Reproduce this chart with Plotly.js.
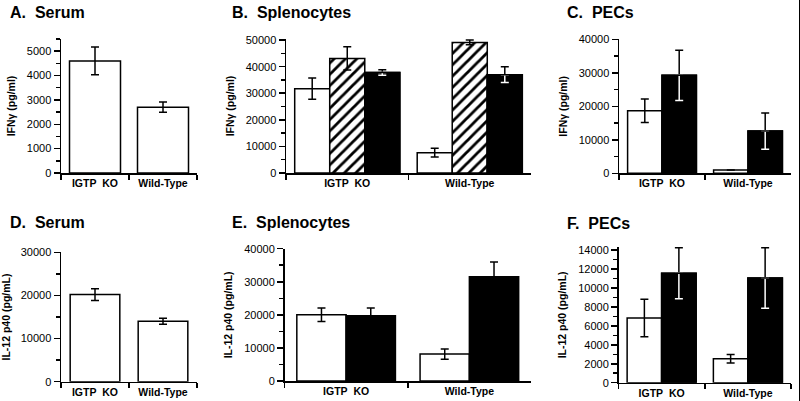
<!DOCTYPE html>
<html>
<head>
<meta charset="utf-8">
<script src="https://cdn.plot.ly/plotly-3.0.1.min.js"></script>
<style>html,body{margin:0;padding:0;background:#fff;}#chart{width:800px;height:401px;}</style>
</head>
<body>
<div id="chart"></div>
<script>
// ---- data ----
var categories = ['IGTP\u00a0\u00a0KO', 'Wild-Type'];

// A. Serum IFNγ
var serumIFN = [4600, 2700];
var serumIFNErr = [570, 210];
// B. Splenocytes IFNγ
var splenoIFNOpen = [31700, 7650];
var splenoIFNOpenErr = [4000, 1650];
var splenoIFNHatch = [43100, 49100];
var splenoIFNHatchErr = [4400, 900];
var splenoIFNBlack = [37800, 37000];
var splenoIFNBlackErr = [1000, 3000];
// C. PECs IFNγ
var pecIFNOpen = [18700, 1000];
var pecIFNOpenErr = [3500, 0];
var pecIFNBlack = [29250, 12600];
var pecIFNBlackErr = [7500, 5400];
// D. Serum IL-12 p40
var serumIL12 = [20200, 14000];
var serumIL12Err = [1350, 700];
// E. Splenocytes IL-12 p40
var splenoIL12Open = [20050, 8150];
var splenoIL12OpenErr = [2050, 1550];
var splenoIL12Black = [19750, 31550];
var splenoIL12BlackErr = [2300, 4450];
// F. PECs IL-12 p40
var pecIL12Open = [6830, 2530];
var pecIL12OpenErr = [1970, 450];
var pecIL12Black = [11550, 11050];
var pecIL12BlackErr = [2700, 3200];

var panelTitles = ['A.\u00a0\u00a0Serum', 'B.\u00a0\u00a0Splenocytes', 'C.\u00a0\u00a0PECs',
                   'D.\u00a0\u00a0Serum', 'E.\u00a0\u00a0Splenocytes', 'F.\u00a0\u00a0PECs'];
var ifnTitle = 'IFN\u03b3 (pg/ml)';
var il12Title = 'IL-12 p40 (pg/mL)';

// ---- styling helpers ----
var FONT = 'Liberation Sans, Arial, Helvetica, sans-serif';
var W = 800, H = 401;
function dx(a, b) { return [a / W, b / W]; }
function dy(top, bottom) { return [1 - bottom / H, 1 - top / H]; }

var errStyle = {thickness: 1.5, width: 4};

function openBar(ax, y, err, offset, width) {
  return {type: 'bar', x: categories, y: y, xaxis: 'x' + ax, yaxis: 'y' + ax,
    offset: offset, width: width, cliponaxis: false, hoverinfo: 'y',
    marker: {color: '#fff', line: {color: '#000', width: 1.5}},
    error_y: {type: 'data', array: err, visible: true, color: '#000',
              thickness: errStyle.thickness, width: errStyle.width}};
}
function hatchBar(ax, y, err, offset, width) {
  var t = openBar(ax, y, err, offset, width);
  t.marker.pattern = {shape: '/', fgcolor: '#000', bgcolor: '#fff', size: 8, solidity: 0.35};
  return t;
}
function blackBar(ax, y, err, offset, width, whiteInside) {
  var zeros = err.map(function () { return 0; });
  var main = {type: 'bar', x: categories, y: y, xaxis: 'x' + ax, yaxis: 'y' + ax,
    offset: offset, width: width, cliponaxis: false, hoverinfo: 'y',
    marker: {color: '#000', line: {color: '#000', width: 1.5}},
    error_y: {type: 'data', symmetric: !whiteInside, array: err,
              arrayminus: whiteInside ? zeros : err, visible: true, color: '#000',
              thickness: errStyle.thickness, width: errStyle.width}};
  if (!whiteInside) return [main];
  var inner = {type: 'bar', x: categories, y: y, xaxis: 'x' + ax, yaxis: 'y' + ax,
    offset: offset, width: width, cliponaxis: false, hoverinfo: 'skip',
    marker: {color: 'rgba(0,0,0,0)', line: {width: 0}},
    error_y: {type: 'data', symmetric: false, array: zeros, arrayminus: err, visible: true,
              color: '#fff', thickness: errStyle.thickness, width: errStyle.width}};
  var outline = {type: 'bar', x: categories, y: y, xaxis: 'x' + ax, yaxis: 'y' + ax,
    offset: offset, width: width, cliponaxis: false, hoverinfo: 'skip',
    marker: {color: 'rgba(0,0,0,0)', line: {color: '#000', width: 1.5}}};
  return [main, inner, outline];
}

var data = [];
// A
data.push(openBar('', serumIFN, serumIFNErr, -0.375, 0.75));
// B
data.push(openBar('2', splenoIFNOpen, splenoIFNOpenErr, -0.429, 0.286));
data.push(hatchBar('2', splenoIFNHatch, splenoIFNHatchErr, -0.143, 0.286));
data = data.concat(blackBar('2', splenoIFNBlack, splenoIFNBlackErr, 0.143, 0.286, true));
// C
data.push(openBar('3', pecIFNOpen, pecIFNOpenErr, -0.4, 0.4));
data = data.concat(blackBar('3', pecIFNBlack, pecIFNBlackErr, 0, 0.4, true));
// D
data.push(openBar('4', serumIL12, serumIL12Err, -0.365, 0.73));
// E
data.push(openBar('5', splenoIL12Open, splenoIL12OpenErr, -0.4, 0.4));
data = data.concat(blackBar('5', splenoIL12Black, splenoIL12BlackErr, 0, 0.4, false));
// F
data.push(openBar('6', pecIL12Open, pecIL12OpenErr, -0.4, 0.4));
data = data.concat(blackBar('6', pecIL12Black, pecIL12BlackErr, 0, 0.4, true));

function xAxis(domain, anchor) {
  return {domain: domain, anchor: anchor, type: 'category', range: [-0.5, 1.5],
    tickson: 'boundaries', ticks: 'outside', ticklen: 5, tickwidth: 1.5, tickcolor: '#000',
    showline: true, linecolor: '#000', linewidth: 1.5, showgrid: false, zeroline: false,
    fixedrange: true,
    tickfont: {family: FONT, size: 10.5, color: '#000', weight: 'bold'}};
}
function yAxis(domain, anchor, range, dtick, minor, title) {
  return {domain: domain, anchor: anchor, range: range, dtick: dtick, tick0: 0,
    tickformat: 'd', exponentformat: 'none', separatethousands: false,
    ticks: 'outside', ticklen: 6, tickwidth: 1.5, tickcolor: '#000',
    showline: true, linecolor: '#000', linewidth: 1.5, showgrid: false, zeroline: false,
    fixedrange: true,
    minor: {dtick: minor, tick0: 0, ticks: 'outside', ticklen: 4, tickwidth: 1.5,
            tickcolor: '#000', showgrid: false},
    tickfont: {family: FONT, size: 11, color: '#000'},
    title: {text: title, standoff: 9, font: {family: FONT, size: 10.5, color: '#000', weight: 'bold'}}};
}

var annotations = [];
var titlePos = [[8, 13], [230, 13], [565, 13], [8, 222], [230, 222], [565, 223]];
for (var i = 0; i < panelTitles.length; i++) {
  annotations.push({text: panelTitles[i], xref: 'paper', yref: 'paper',
    x: titlePos[i][0] / W, y: 1 - titlePos[i][1] / H, xanchor: 'left', yanchor: 'middle',
    showarrow: false, font: {family: FONT, size: 16, color: '#000', weight: 'bold'}});
}

var layout = {
  width: W, height: H, margin: {l: 0, r: 0, t: 0, b: 0},
  paper_bgcolor: '#fff', plot_bgcolor: '#fff', showlegend: false,
  barmode: 'overlay',
  xaxis: xAxis(dx(61, 197), 'y'),
  yaxis: yAxis(dy(39, 173), 'x', [0, 5500], 1000, 500, ifnTitle),
  xaxis2: xAxis(dx(286, 531), 'y2'),
  yaxis2: yAxis(dy(39, 173), 'x2', [0, 50400], 10000, 5000, ifnTitle),
  xaxis3: xAxis(dx(619, 791), 'y3'),
  yaxis3: yAxis(dy(39.3, 173.3), 'x3', [0, 40000], 10000, 5000, ifnTitle),
  xaxis4: xAxis(dx(61, 197), 'y4'),
  yaxis4: yAxis(dy(252.3, 381.7), 'x4', [0, 30000], 10000, 5000, il12Title),
  xaxis5: xAxis(dx(284.5, 531), 'y5'),
  yaxis5: yAxis(dy(248.7, 381), 'x5', [0, 40000], 10000, 5000, il12Title),
  xaxis6: xAxis(dx(618.5, 791), 'y6'),
  yaxis6: yAxis(dy(247, 382.7), 'x6', [0, 14320], 2000, 1000, il12Title),
  annotations: annotations,
  shapes: [{type: 'line', xref: 'paper', yref: 'paper', x0: 799.5 / W, x1: 799.5 / W, y0: 0, y1: 1,
            line: {color: '#000', width: 1}}]
};

Plotly.newPlot('chart', data, layout, {displayModeBar: false, staticPlot: true});
</script>
</body>
</html>
